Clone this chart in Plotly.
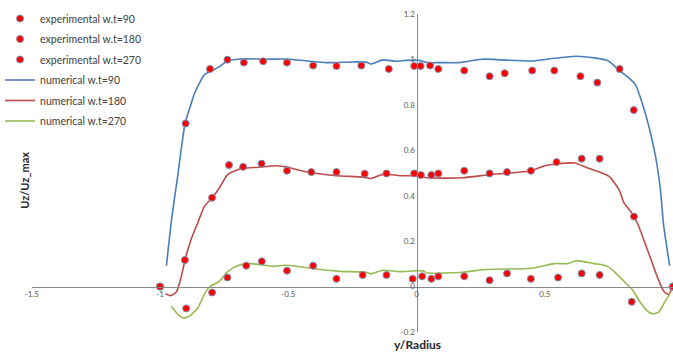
import plotly.graph_objects as go

# Experimental data
exp90_x = [-1.0, -0.900, -0.805, -0.737, -0.673, -0.598, -0.505, -0.403, -0.312, -0.215, -0.108, -0.009, 0.016, 0.053, 0.085, 0.186, 0.285, 0.344, 0.451, 0.537, 0.639, 0.705, 0.792, 0.847, 1.0]
exp90_y = [0, 0.718, 0.958, 0.999, 0.986, 0.992, 0.986, 0.973, 0.971, 0.973, 0.958, 0.971, 0.971, 0.973, 0.958, 0.951, 0.926, 0.939, 0.951, 0.951, 0.926, 0.898, 0.958, 0.777, 0]

exp180_x = [-1.0, -0.903, -0.797, -0.731, -0.676, -0.604, -0.505, -0.410, -0.312, -0.202, -0.117, -0.009, 0.017, 0.058, 0.085, 0.186, 0.285, 0.353, 0.446, 0.546, 0.644, 0.714, 0.848, 1.0]
exp180_y = [0, 0.117, 0.391, 0.535, 0.527, 0.541, 0.510, 0.504, 0.504, 0.497, 0.498, 0.498, 0.491, 0.491, 0.498, 0.510, 0.498, 0.504, 0.510, 0.548, 0.563, 0.563, 0.308, 0]

exp270_x = [-1.0, -0.898, -0.797, -0.737, -0.664, -0.603, -0.505, -0.403, -0.312, -0.210, -0.117, -0.015, 0.022, 0.058, 0.085, 0.186, 0.285, 0.353, 0.446, 0.552, 0.644, 0.714, 0.839, 1.0]
exp270_y = [0, -0.096, -0.026, 0.040, 0.092, 0.111, 0.070, 0.092, 0.034, 0.051, 0.051, 0.034, 0.045, 0.034, 0.045, 0.045, 0.028, 0.058, 0.034, 0.040, 0.058, 0.051, -0.067, 0]

# Numerical data
num90_x = [-0.975, -0.955, -0.932, -0.902, -0.880, -0.866, -0.827, -0.795, -0.769, -0.737, -0.685, -0.595, -0.505, -0.415, -0.351, -0.247, -0.196, -0.177, -0.131, -0.080, -0.041, 0.010, 0.043, 0.100, 0.165, 0.255, 0.332, 0.448, 0.538, 0.622, 0.693, 0.745, 0.770, 0.796, 0.822, 0.854, 0.880, 0.906, 0.932, 0.951, 0.964, 0.987]
num90_y = [0.092, 0.295, 0.480, 0.720, 0.800, 0.850, 0.932, 0.951, 0.968, 0.993, 1.002, 1.001, 1.002, 0.992, 0.986, 0.989, 0.988, 0.980, 0.998, 0.992, 0.996, 0.996, 0.986, 0.986, 0.986, 1.001, 0.998, 0.993, 1.005, 1.014, 1.007, 0.995, 0.973, 0.946, 0.924, 0.888, 0.807, 0.705, 0.573, 0.426, 0.265, 0.092]

num180_x = [-0.979, -0.959, -0.937, -0.917, -0.902, -0.879, -0.853, -0.827, -0.797, -0.769, -0.737, -0.698, -0.673, -0.634, -0.544, -0.505, -0.453, -0.402, -0.312, -0.209, -0.177, -0.131, -0.054, 0.0, 0.043, 0.178, 0.281, 0.448, 0.500, 0.552, 0.616, 0.668, 0.719, 0.751, 0.790, 0.809, 0.835, 0.861, 0.900, 0.938, 0.964, 0.983, 0.996]
num180_y = [-0.031, -0.040, -0.025, 0.045, 0.119, 0.207, 0.280, 0.353, 0.390, 0.434, 0.492, 0.514, 0.522, 0.524, 0.532, 0.526, 0.511, 0.500, 0.488, 0.482, 0.476, 0.494, 0.488, 0.488, 0.479, 0.479, 0.492, 0.510, 0.532, 0.541, 0.544, 0.522, 0.502, 0.485, 0.426, 0.368, 0.331, 0.280, 0.163, 0.045, -0.021, -0.035, -0.006]

num270_x = [-0.956, -0.930, -0.911, -0.885, -0.853, -0.821, -0.801, -0.769, -0.737, -0.698, -0.647, -0.557, -0.511, -0.453, -0.376, -0.299, -0.196, -0.177, -0.131, -0.067, 0.023, 0.043, 0.178, 0.268, 0.448, 0.538, 0.590, 0.622, 0.693, 0.719, 0.745, 0.770, 0.809, 0.841, 0.874, 0.906, 0.925, 0.944, 0.970, 0.990]
num270_y = [-0.087, -0.123, -0.138, -0.130, -0.094, -0.021, 0.004, 0.023, 0.065, 0.092, 0.101, 0.089, 0.094, 0.087, 0.075, 0.067, 0.063, 0.056, 0.072, 0.066, 0.069, 0.060, 0.063, 0.075, 0.081, 0.101, 0.101, 0.114, 0.101, 0.097, 0.089, 0.067, 0.023, -0.013, -0.072, -0.113, -0.120, -0.113, -0.064, -0.028]

x_ticks = [-1.5, -1, -0.5, 0, 0.5]
x_ticktext = ["-1.5", "-1", "-0.5", "0", "0.5"]
y_ticks = [-0.2, 0, 0.2, 0.4, 0.6, 0.8, 1.0, 1.2]
y_ticktext = ["-0.2", "0", "0.2", "0.4", "0.6", "0.8", "1", "1.2"]

FONT = "Lato"
W, H = 673, 356
T, B = 14, 24
PH = H - T - B
x_dom0 = 26 / W
fig = go.Figure()

lines = [
    (num90_x, num90_y, "numerical w.t=90", "#4A7EBB", 4),
    (num180_x, num180_y, "numerical w.t=180", "#BE4B48", 5),
    (num270_x, num270_y, "numerical w.t=270", "#98B954", 6),
]
for x, y, name, col, rank in lines:
    fig.add_trace(go.Scatter(x=x, y=y, mode="lines", name=name, legendrank=rank,
                             legendgroup=name,
                             line=dict(color=col, width=1.6, shape="spline", smoothing=0.6)))

pts = [
    (exp90_x, exp90_y, "experimental w.t=90", 1),
    (exp180_x, exp180_y, "experimental w.t=180", 2),
    (exp270_x, exp270_y, "experimental w.t=270", 3),
]
for x, y, name, rank in pts:
    fig.add_trace(go.Scatter(x=x, y=y, mode="markers", name=name, legendrank=rank,
                             legendgroup=name, cliponaxis=False,
                             marker=dict(color="#FF0000", size=7,
                                         line=dict(color="#7D8FAE", width=1))))

fig.update_layout(
    width=W, height=H,
    margin=dict(l=0, r=0, t=T, b=B),
    paper_bgcolor="white", plot_bgcolor="white",
    font=dict(family=FONT, color="#404040"),
    showlegend=True,
    legend=dict(x=-6 / W, y=1.0 + 10 / PH, xanchor="left", yanchor="top",
                font=dict(size=10.5, color="#404040", family=FONT),
                tracegroupgap=1.5, bgcolor="rgba(0,0,0,0)", itemwidth=30),
    xaxis=dict(range=[-1.5, 1.0], domain=[x_dom0, 1], anchor="free", position=0.2 / 1.4,
               showline=True, linecolor="#898989", linewidth=1,
               showgrid=False, zeroline=False, ticks="",
               tickvals=x_ticks, ticktext=x_ticktext,
               tickfont=dict(size=8, color="#595959", family=FONT)),
    yaxis=dict(range=[-0.2, 1.2], domain=[0, 1], anchor="free",
               position=x_dom0 + (1 - x_dom0) * 0.6,
               showline=True, linecolor="#898989", linewidth=1,
               showgrid=False, zeroline=False, ticks="",
               tickvals=y_ticks, ticktext=y_ticktext,
               tickfont=dict(size=8, color="#595959", family=FONT)),
    annotations=[
        dict(text="<b>Uz/Uz_max</b>", x=18 / W, y=(H - B - 180) / PH, xref="paper", yref="paper",
             xanchor="center", yanchor="middle",
             textangle=-90, showarrow=False, font=dict(size=11, color="#262626", family=FONT)),
        dict(text="<b>y/Radius</b>", x=415 / W, y=(H - B - 344) / PH, xref="paper", yref="paper",
             xanchor="center", yanchor="middle",
             showarrow=False, font=dict(size=12, color="#262626", family=FONT)),
    ],
)

fig.write_html("out.html")
